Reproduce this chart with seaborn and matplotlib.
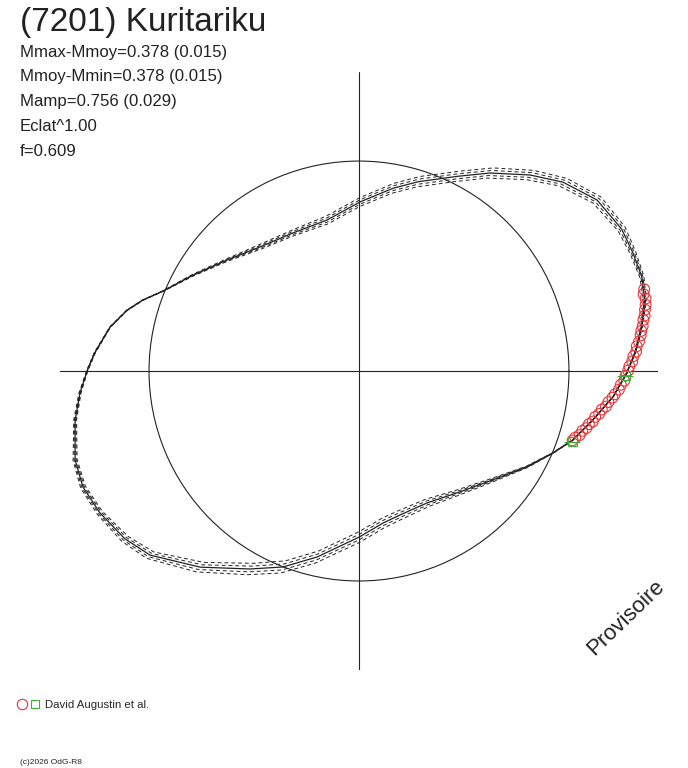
import numpy as np
import pandas as pd
import matplotlib
matplotlib.use("Agg")
import matplotlib.pyplot as plt
import seaborn as sns
from matplotlib.lines import Line2D
from matplotlib.legend_handler import HandlerTuple

# fitted polar lightcurve: angle (deg), flux relative to mean (circle = 1)
curve_angle = [-180.0, -175.5, -170.2, -162.6, -157.2, -151.3, -144.4, -138.6, -129.0, -118.8,
               -111.2, -102.7, -89.8, -81.0, -74.1, -62.7, -50.1, -39.1, -29.7, -22.9,
               -17.9, -11.8, -5.8, -0.4, 4.3, 9.2, 13.9, 18.4, 23.3, 28.4,
               35.7, 42.8, 48.9, 56.5, 63.1, 72.6, 79.5, 89.7, 102.0, 115.6,
               128.6, 139.9, 150.0, 157.8, 161.8, 165.3, 170.0, 176.1]
curve_flux = [1.295, 1.333, 1.372, 1.417, 1.426, 1.407, 1.372, 1.326, 1.202, 1.076,
              1.001, 0.908, 0.790, 0.733, 0.713, 0.707, 0.750, 0.822, 0.921, 1.003,
              1.070, 1.138, 1.216, 1.276, 1.323, 1.365, 1.403, 1.420, 1.421, 1.422,
              1.396, 1.324, 1.239, 1.131, 1.040, 0.945, 0.885, 0.805, 0.735, 0.729,
              0.756, 0.821, 0.913, 1.008, 1.083, 1.142, 1.204, 1.262]
# half-width of the dashed uncertainty envelope
curve_spread = [0.003, 0.005, 0.007, 0.010, 0.012, 0.014, 0.019, 0.023, 0.029, 0.031,
                0.031, 0.029, 0.026, 0.024, 0.022, 0.019, 0.014, 0.010, 0.005, 0.002,
                0.002, 0.002, 0.002, 0.002, 0.003, 0.005, 0.007, 0.010, 0.014, 0.019,
                0.024, 0.026, 0.029, 0.029, 0.028, 0.026, 0.024, 0.021, 0.019, 0.014,
                0.012, 0.007, 0.005, 0.002, 0.002, 0.002, 0.002, 0.003]

# observations (David Augustin et al.)
obs_angle = [-18.0, -17.1, -16.2, -15.0, -14.1, -13.0, -12.2, -11.0, -10.1, -9.0,
             -8.2, -7.1, -6.0, -5.2, -4.1, -3.0, -2.1, -1.0, 0.1, 1.0,
             2.0, 3.1, 4.0, 5.1, 6.0, 7.2, 8.1, 9.0, 10.2, 11.0,
             12.1, 13.0, 14.2, 15.1, 16.0]
obs_flux = [1.070, 1.078, 1.094, 1.101, 1.116, 1.124, 1.139, 1.146, 1.162, 1.171,
            1.188, 1.197, 1.214, 1.224, 1.241, 1.249, 1.264, 1.270, 1.282, 1.288,
            1.302, 1.309, 1.323, 1.328, 1.341, 1.352, 1.358, 1.368, 1.376, 1.386,
            1.393, 1.401, 1.408, 1.404, 1.413]
first_angle = [-18.3, -1.0]
first_flux = [1.070, 1.268]

title = "(7201) Kuritariku"
info_lines = ["Mmax-Mmoy=0.378 (0.015)", "Mmoy-Mmin=0.378 (0.015)",
              "Mamp=0.756 (0.029)", "Eclat^1.00", "f=0.609"]
observer = "David Augustin et al."

red = "#e8353b"
green = "#3fae3f"
ink = "#222222"

sns.set_style("white")
plt.rcParams['font.family'] = ['Liberation Sans', 'DejaVu Sans']

fig = plt.figure(figsize=(6.88, 7.68), dpi=100)
ax = fig.add_axes([0.0872, 0.1276, 0.8692, 0.7786], projection='polar')

curve = pd.DataFrame({"theta": np.radians(curve_angle), "r": curve_flux, "s": curve_spread})
curve = pd.concat([curve, curve.iloc[:1].assign(theta=curve.theta.iloc[0] + 2 * np.pi)],
                  ignore_index=True)

for k in [-1, -0.5, 0.5, 1]:
    sns.lineplot(x=curve.theta, y=curve.r + k * curve.s, sort=False, estimator=None, ax=ax,
                 color=ink, lw=0.7, linestyle=(0, (4, 3)), clip_on=False)
sns.lineplot(x=curve.theta, y=curve.r, sort=False, estimator=None, ax=ax,
             color=ink, lw=0.9, clip_on=False)

sns.scatterplot(x=np.radians(obs_angle), y=obs_flux, ax=ax, marker='o', s=60,
                facecolor='none', edgecolor=red, linewidth=0.8, clip_on=False, zorder=3)
sns.scatterplot(x=np.radians(first_angle), y=first_flux, ax=ax, marker='s', s=40,
                facecolor='none', edgecolor=green, linewidth=0.8, clip_on=False, zorder=4)
sns.scatterplot(x=np.radians(first_angle), y=first_flux, ax=ax, marker='_', s=120,
                color=green, linewidth=0.8, clip_on=False, zorder=4)

# reference circle (mean flux) and axes cross
ax.set_rlim(0, 1.424)
ax.set_rgrids([1.0], labels=[''])
ax.set_thetagrids([0, 90, 180, 270], labels=['', '', '', ''])
ax.grid(True, color=ink, lw=0.8)
ax.spines['polar'].set_visible(False)
ax.set_xlabel('')
ax.set_ylabel('')

fig.text(20 / 688, 1 - 23 / 768, title, fontsize=24, color=ink, va='center', ha='left')
for i, line in enumerate(info_lines):
    fig.text(20 / 688, 1 - (52 + 24.8 * i) / 768, line, fontsize=12.1, color=ink,
             va='center', ha='left')

fig.text(626 / 688, 1 - 618 / 768, "Provisoire", rotation=44, fontsize=16, color=ink,
         ha='center', va='center')

h1 = Line2D([], [], marker='o', ls='none', mfc='none', mec=red, ms=7.5, mew=0.8)
h2 = Line2D([], [], marker='s', ls='none', mfc='none', mec=green, ms=6, mew=0.8)
fig.legend([(h1, h2)], [observer], handler_map={tuple: HandlerTuple(ndivide=None, pad=0.2)},
           loc='center left', bbox_to_anchor=(17 / 688, 1 - 705 / 768), frameon=False,
           fontsize=8.2, handlelength=2.0, handletextpad=0.5, borderaxespad=0, borderpad=0)

fig.text(20 / 688, 1 - 762 / 768, "(c)2026 OdG-R8", fontsize=6, color=ink,
         va='center', ha='left')

fig.savefig('out.png', dpi=100)
